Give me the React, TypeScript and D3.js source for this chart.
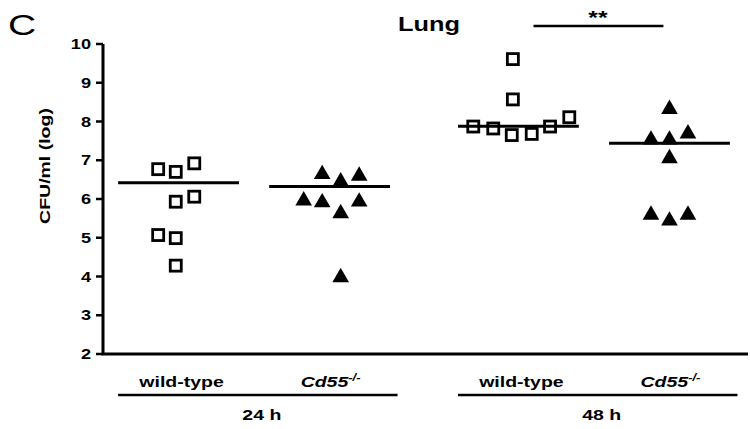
import { useEffect, useRef } from 'react';
import * as d3 from 'd3';

const WIDTH = 750;
const HEIGHT = 429;

// groups along the x axis
const groupNames = ['wild-type', 'Cd55', 'wild-type', 'Cd55'];
const groupIsKnockout = [false, true, false, true];
const groupPositions = [1, 2, 3.25, 4.25];
const timeLabels = ['24 h', '48 h'];
const timeGroups = [[0, 1], [2, 3]];
const yTicks = [2, 3, 4, 5, 6, 7, 8, 9, 10];

// CFU/ml (log) per mouse, with the column each point sits in
const wt24h = [6.77, 6.7, 6.92, 5.93, 6.06, 5.07, 4.99, 4.28];
const wt24hCol = [-1.1, -0.15, 0.85, -0.15, 0.85, -1.1, -0.15, -0.15];
const ko24h = [6.7, 6.51, 6.66, 6.02, 5.97, 5.99, 5.69, 4.04];
const ko24hCol = [-0.4, 0.6, 1.6, -1.4, -0.4, 1.6, 0.6, 0.6];
const wt48h = [9.61, 8.57, 7.87, 7.82, 7.65, 7.68, 7.87, 8.11];
const wt48hCol = [-0.3, -0.3, -2.44, -1.36, -0.36, 0.72, 1.71, 2.75];
const ko48h = [8.38, 7.59, 7.59, 7.75, 7.11, 5.65, 5.5, 5.65];
const ko48hCol = [0, -1, 0, 1, 0, -1, 0, 1];
const medians = [6.42, 6.32, 7.88, 7.44];

const groupValues = [wt24h, ko24h, wt48h, ko48h];
const groupCols = [wt24hCol, ko24hCol, wt48hCol, ko48hCol];

const PLOT = { left: 103, right: 745, top: 44, bottom: 354 };
const COL_SPACING = 18.5;
const STRETCH = 1.3; // the lettering in the figure is set wide
const FONT = "'Liberation Sans', Arial, Helvetica, sans-serif";

export default function App() {
  const svgRef = useRef<SVGSVGElement>(null);

  useEffect(() => {
    if (!svgRef.current) return;
    const svg = d3.select(svgRef.current);
    svg.selectAll('*').remove();

    const x = d3.scaleLinear().domain([0.5, 4.75]).range([PLOT.left, PLOT.right]);
    const y = d3.scaleLinear().domain([2, 10]).range([PLOT.bottom, PLOT.top]);

    const addText = (
      tx: number,
      ty: number,
      str: string,
      size: number,
      opts: { weight?: string; anchor?: string; rotate?: number; italic?: boolean } = {}
    ) =>
      svg
        .append('text')
        .attr(
          'transform',
          `translate(${tx},${ty})${opts.rotate ? ` rotate(${opts.rotate})` : ''} scale(${STRETCH},1)`
        )
        .attr('text-anchor', opts.anchor ?? 'middle')
        .attr('font-family', FONT)
        .attr('font-size', size)
        .attr('font-weight', opts.weight ?? 'bold')
        .attr('font-style', opts.italic ? 'italic' : 'normal')
        .attr('fill', '#000')
        .text(str);

    // panel letter and title
    addText(8, 35, 'C', 30, { weight: 'normal', anchor: 'start' });
    addText(429, 31, 'Lung', 19.5);

    // axes
    svg
      .append('path')
      .attr('d', `M${PLOT.left},${y(10)}V${y(2)}H${PLOT.right + 3}`)
      .attr('fill', 'none')
      .attr('stroke', '#000')
      .attr('stroke-width', 3);

    yTicks.forEach((t) => {
      svg
        .append('line')
        .attr('x1', PLOT.left - 7)
        .attr('x2', PLOT.left)
        .attr('y1', y(t))
        .attr('y2', y(t))
        .attr('stroke', '#000')
        .attr('stroke-width', 2.5);
      addText(PLOT.left - 12, y(t) + 5, String(t), 14, { anchor: 'end' });
    });

    addText(50, 166, 'CFU/ml (log)', 15, { rotate: -90 });

    // points
    groupValues.forEach((values, gi) => {
      const cx = (i: number) => x(groupPositions[gi]) + groupCols[gi][i] * COL_SPACING;
      const g = svg.append('g');
      if (!groupIsKnockout[gi]) {
        g.selectAll('rect')
          .data(values)
          .enter()
          .append('rect')
          .attr('x', (_, i) => cx(i) - 5.5)
          .attr('y', (d) => y(d) - 5.5)
          .attr('width', 11)
          .attr('height', 11)
          .attr('fill', '#fff')
          .attr('stroke', '#000')
          .attr('stroke-width', 2.8);
      } else {
        const tri = d3.symbol(d3.symbolTriangle, 120)();
        g.selectAll('path')
          .data(values)
          .enter()
          .append('path')
          .attr('d', tri)
          .attr('transform', (d, i) => `translate(${cx(i)},${y(d) + 2.4})`)
          .attr('fill', '#000');
      }

      // median line
      svg
        .append('line')
        .attr('x1', x(groupPositions[gi] - 0.4))
        .attr('x2', x(groupPositions[gi] + 0.4))
        .attr('y1', y(medians[gi]))
        .attr('y2', y(medians[gi]))
        .attr('stroke', '#000')
        .attr('stroke-width', 3);
    });

    // significance bar between the 48 h groups
    const sigY = 26;
    svg
      .append('line')
      .attr('x1', x(groupPositions[2] + 0.1))
      .attr('x2', x(groupPositions[3] - 0.04))
      .attr('y1', sigY)
      .attr('y2', sigY)
      .attr('stroke', '#000')
      .attr('stroke-width', 2.5);
    addText(x((groupPositions[2] + groupPositions[3]) / 2) + 4, sigY - 2, '**', 19);

    // group labels
    groupNames.forEach((name, gi) => {
      const gx = x(groupPositions[gi]);
      if (!groupIsKnockout[gi]) {
        addText(gx + 3, 387, name, 15);
      } else {
        const t = addText(gx + 1, 387, '', 15, { italic: true });
        t.append('tspan').text(name);
        t.append('tspan').attr('dy', -6).attr('font-size', 10).text('-/-');
      }
    });

    // time brackets
    timeGroups.forEach((pair, ti) => {
      const x1 = x(groupPositions[pair[0]] - 0.4);
      const x2 = x(groupPositions[pair[1]] + 0.45);
      svg
        .append('line')
        .attr('x1', x1)
        .attr('x2', x2)
        .attr('y1', 395)
        .attr('y2', 395)
        .attr('stroke', '#000')
        .attr('stroke-width', 2.5);
      addText((x1 + x2) / 2 + 4, 420, timeLabels[ti], 15);
    });
  }, []);

  return (
    <svg
      ref={svgRef}
      width={WIDTH}
      height={HEIGHT}
      viewBox={`0 0 ${WIDTH} ${HEIGHT}`}
      style={{ position: 'absolute', left: 0, top: 0, background: '#fff' }}
      role="img"
      aria-label="Lung CFU/ml (log) in wild-type and Cd55-/- mice at 24 h and 48 h"
    />
  );
}
